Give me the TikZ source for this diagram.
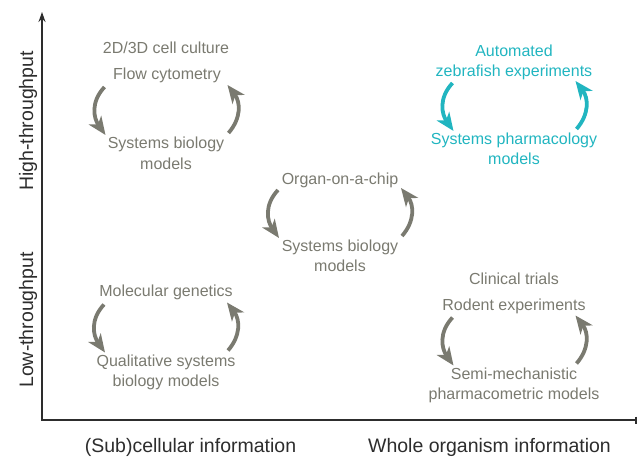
\documentclass[tikz,border=0pt]{standalone}
\usepackage{fontspec}
\setmainfont{Liberation Sans}
\usetikzlibrary{arrows.meta}
\definecolor{txtgray}{RGB}{122,122,112}
\definecolor{mycyan}{RGB}{33,181,192}
\definecolor{axisgray}{RGB}{45,45,45}
\newcommand\cycarrows[4]{%
  \begin{scope}[shift={(#2,#3)}]
    \coordinate (#1L1) at (-62,-23);
    \coordinate (#1L2) at (-61,25);
    \coordinate (#1R1) at (62,23);
    \coordinate (#1R2) at (61,-25);
    \draw[cycarrow,draw=#4] (#1L1) .. controls +(-14,15) and +(-12,-17) .. (#1L2);
    \draw[cycarrow,draw=#4] (#1R1) .. controls +(13,-15) and +(13,17) .. (#1R2);
  \end{scope}}
\begin{document}
\begin{tikzpicture}[x=1pt,y=-1pt,
  lab/.style={font=\fontsize{16}{20}\selectfont, text=txtgray, inner sep=0pt, anchor=base},
  clab/.style={lab, text=mycyan},
  axlab/.style={font=\fontsize{19.5}{23}\selectfont, text=axisgray, inner sep=0pt, anchor=base},
  cycarrow/.style={line width=3.8pt, -{Stealth[length=18pt,width=15pt,inset=5pt]}},
  axisline/.style={line width=2pt, draw=axisgray}
]
\useasboundingbox (0,0) rectangle (637,457);

% axes
\coordinate (O) at (42,420);
\coordinate (ytop) at (42,12);
\coordinate (xend) at (637,420);
\draw[axisline, -{Stealth[length=10pt,width=7pt]}] (O) -- (ytop);
\draw[axisline] ([xshift=-1pt]O) -- (xend);
\draw[axisgray, line width=1.5pt] (636,416.5) -- (636,423.5);

% axis labels
\node[axlab] (xl1) at (190.5,452) {(Sub)cellular information};
\node[axlab] (xl2) at (489.5,452) {Whole organism information};
\node[axlab, rotate=90] (yl1) at (33,121) {High-throughput};
\node[axlab, rotate=90] (yl2) at (33,320) {Low-throughput};

% A: top left
\node[lab] (a1) at (166,53.5) {2D/3D cell culture};
\node[lab] (a2) at (167,80) {Flow cytometry};
\node[lab] (a3) at (166,148.5) {Systems biology};
\node[lab] (a4) at (166,169.5) {models};
\cycarrows{A}{166.5}{110}{txtgray}

% B: middle
\node[lab] (b1) at (340,184.5) {Organ-on-a-chip};
\node[lab] (b2) at (340,251.5) {Systems biology};
\node[lab] (b3) at (340,271.5) {models};
\cycarrows{B}{340}{213}{txtgray}

% C: top right (cyan)
\node[clab] (c1) at (514,56.5) {Automated};
\node[clab] (c2) at (514,76.5) {zebrafish experiments};
\node[clab] (c3) at (514,145) {Systems pharmacology};
\node[clab] (c4) at (514,165) {models};
\cycarrows{C}{514.5}{106}{mycyan}

% D: bottom left
\node[lab] (d1) at (166,296.5) {Molecular genetics};
\node[lab] (d2) at (166,366.5) {Qualitative systems};
\node[lab] (d3) at (166,386.5) {biology models};
\cycarrows{D}{166}{327.5}{txtgray}

% E: bottom right
\node[lab] (e1) at (514,284.5) {Clinical trials};
\node[lab] (e2) at (514,310.5) {Rodent experiments};
\node[lab] (e3) at (514,379.5) {Semi-mechanistic};
\node[lab] (e4) at (514,399.5) {pharmacometric models};
\cycarrows{E}{514.5}{340.5}{txtgray}
\end{tikzpicture}
\end{document}
